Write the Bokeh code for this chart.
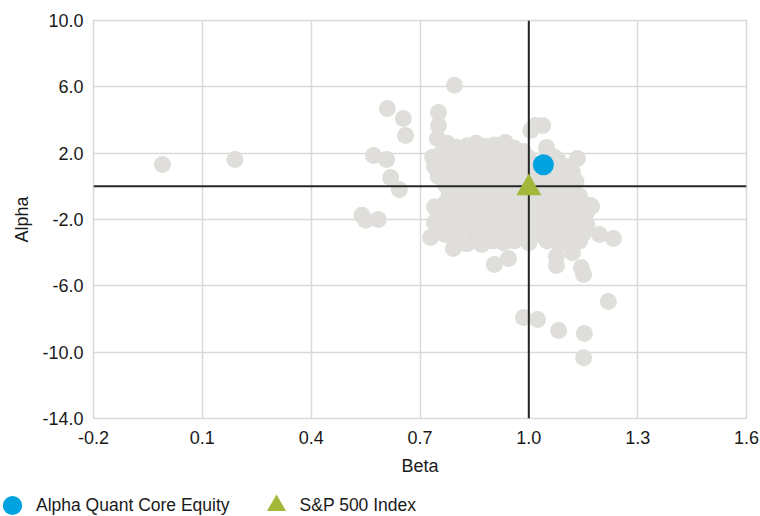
from bokeh.plotting import figure
from bokeh.models import Range1d, FixedTicker, Span, Legend, LegendItem
from bokeh.embed import file_html
from bokeh.resources import INLINE

# ---------------- data ----------------
peer_beta = [
    -0.01, 0.19, 0.54, 0.55, 0.585, 0.572, 0.608, 0.619, 0.643, 0.61, 0.654, 0.66,
    0.795, 0.751, 0.751, 0.748, 1.005, 1.018, 1.038, 1.049, 1.134, 1.115, 1.17,
    0.729, 0.792, 0.831, 0.905, 0.944, 1.076, 1.076, 1.151, 1.145, 1.195, 1.233,
    1.219, 0.985, 1.024, 1.082, 1.153, 1.151, 1.173,
    # dense cloud
    0.775, 0.80, 0.83, 0.855, 0.88, 0.905, 0.935, 0.96, 0.985,
    0.735, 0.76, 0.79, 0.82, 0.85, 0.88, 0.91, 0.94, 0.97, 1.0, 1.05, 1.08, 1.07,
    0.74, 0.77, 0.80, 0.83, 0.86, 0.89, 0.92, 0.95, 0.98, 1.01, 1.07, 1.10, 1.12,
    0.75, 0.78, 0.81, 0.84, 0.87, 0.90, 0.93, 0.96, 0.99, 1.02, 1.05, 1.08, 1.12,
    0.77, 0.80, 0.83, 0.86, 0.89, 0.92, 0.95, 0.98, 1.02, 1.05, 1.08, 1.11, 1.13,
    0.78, 0.81, 0.84, 0.87, 0.90, 0.93, 0.96, 0.99, 1.02, 1.05, 1.08, 1.11, 1.14,
    0.74, 0.77, 0.80, 0.83, 0.86, 0.89, 0.92, 0.95, 0.98, 1.01, 1.04, 1.07, 1.10, 1.13,
    0.75, 0.78, 0.81, 0.84, 0.87, 0.90, 0.93, 0.96, 0.99, 1.02, 1.05, 1.08, 1.11, 1.14, 1.16,
    0.74, 0.765, 0.80, 0.83, 0.86, 0.89, 0.92, 0.95, 0.98, 1.01, 1.04, 1.07, 1.10, 1.13, 1.16,
    0.77, 0.80, 0.85, 0.88, 0.91, 0.94, 0.97, 1.00, 1.03, 1.06, 1.09, 1.12, 1.15,
    0.825, 0.87, 0.90, 0.93, 0.96, 1.00, 1.05, 1.08, 1.11, 1.14, 1.12,
]
peer_alpha = [
    1.31, 1.62, -1.75, -2.05, -2.0, 1.86, 1.62, 0.53, -0.19, 4.69, 4.09, 3.06,
    6.1, 4.45, 3.67, 2.88, 3.37, 3.67, 3.67, 2.34, 1.68, 0.53, -1.16,
    -3.09, -3.75, -3.45, -4.72, -4.35, -4.78, -4.23, -5.32, -4.9, -2.91, -3.15,
    -6.95, -7.91, -8.03, -8.70, -8.88, -10.33, -1.22,
    # dense cloud
    2.6, 2.35, 2.45, 2.6, 2.4, 2.5, 2.65, 2.3, 2.1,
    1.75, 2.0, 1.9, 1.8, 2.0, 1.85, 1.95, 1.8, 1.9, 1.7, 2.2, 1.6, 1.75,
    1.2, 1.35, 1.1, 1.3, 1.2, 1.4, 1.2, 1.35, 1.15, 1.3, 1.1, 1.2, 0.9,
    0.6, 0.8, 0.65, 0.75, 0.6, 0.8, 0.65, 0.7, 0.6, 0.8, 0.7, 0.6, 0.3,
    0.1, 0.0, 0.15, -0.05, 0.1, 0.0, 0.15, -0.05, 0.05, 0.2, 0.0, 0.1, 0.3,
    -0.5, -0.6, -0.4, -0.55, -0.45, -0.6, -0.5, -0.4, -0.6, -0.45, -0.55, -0.5, -0.6,
    -1.25, -1.0, -1.2, -1.05, -1.15, -1.0, -1.2, -1.1, -1.0, -1.2, -1.05, -1.15, -1.0, -1.1,
    -1.7, -1.8, -1.65, -1.75, -1.6, -1.8, -1.7, -1.6, -1.8, -1.65, -1.75, -1.6, -1.8, -1.7, -1.55,
    -2.2, -2.45, -2.3, -2.4, -2.2, -2.35, -2.25, -2.4, -2.3, -2.2, -2.4, -2.3, -2.25, -2.4, -2.3,
    -2.9, -3.0, -2.85, -3.0, -2.9, -3.05, -2.85, -3.0, -2.9, -3.05, -2.9, -3.0, -2.85,
    -3.45, -3.5, -3.3, -3.4, -3.3, -3.4, -3.3, -3.4, -3.5, -3.3, -4.0,
]

fund_beta = [1.04]
fund_alpha = [1.3]
index_beta = [1.0]
index_alpha = [-0.1]

x_ticks = [-0.2, 0.1, 0.4, 0.7, 1.0, 1.3, 1.6]
x_tick_labels = ["-0.2", "0.1", "0.4", "0.7", "1.0", "1.3", "1.6"]
y_ticks = [-14, -10, -6, -2, 2, 6, 10]
y_tick_labels = ["-14.0", "-10.0", "-6.0", "-2.0", "2.0", "6.0", "10.0"]

series_names = ["Alpha Quant Core Equity", "S&P 500 Index"]
beta_ref = 1.0
alpha_ref = 0.0

# ---------------- styles ----------------
FONT = "Liberation Sans"
TXT = "#1a1a1a"
GRAY = "#E0DEDA"
BLUE = "#00A3E0"
GREEN = "#A2B83A"

# ---------------- main figure ----------------
p = figure(width=760, height=482, output_backend="svg", toolbar_location=None,
           x_range=Range1d(-0.2, 1.6), y_range=Range1d(-14, 10),
           min_border_left=93, min_border_right=14, min_border_top=20,
           min_border_bottom=64)
p.outline_line_color = "#D9D9D9"
p.outline_line_width = 1.5
p.background_fill_color = "white"
p.border_fill_color = "white"

for ax in (p.xaxis[0], p.yaxis[0]):
    ax.axis_line_color = None
    ax.major_tick_line_color = None
    ax.minor_tick_line_color = None
    ax.major_tick_out = 0
    ax.major_tick_in = 0
    ax.major_label_text_font = FONT
    ax.major_label_text_font_size = "18px"
    ax.major_label_text_color = TXT
    ax.axis_label_text_font = FONT
    ax.axis_label_text_font_size = "18px"
    ax.axis_label_text_font_style = "normal"
    ax.axis_label_text_color = TXT

p.xaxis.ticker = FixedTicker(ticks=x_ticks)
p.yaxis.ticker = FixedTicker(ticks=y_ticks)
p.xaxis.major_label_overrides = dict(zip(x_ticks, x_tick_labels))
p.yaxis.major_label_overrides = dict(zip(y_ticks, y_tick_labels))
p.xaxis.axis_label = "Beta"
p.yaxis.axis_label = "Alpha"
p.xaxis.major_label_standoff = 12
p.yaxis.major_label_standoff = 10
p.xaxis.axis_label_standoff = 9
p.yaxis.axis_label_standoff = 7

p.xgrid.ticker = FixedTicker(ticks=x_ticks)
p.ygrid.ticker = FixedTicker(ticks=y_ticks)
p.grid.grid_line_color = "#D9D9D9"
p.grid.grid_line_width = 1.5

# peers
p.scatter(peer_beta, peer_alpha, size=17, marker="circle",
          fill_color=GRAY, line_color=None)

# reference lines (above the peer cloud)
p.add_layout(Span(location=beta_ref, dimension="height",
                  line_color="#262626", line_width=2))
p.add_layout(Span(location=alpha_ref, dimension="width",
                  line_color="#262626", line_width=2))

p.scatter(index_beta, index_alpha, size=25, marker="triangle",
          fill_color=GREEN, line_color=None, level="overlay")
p.scatter(fund_beta, fund_alpha, size=21, marker="circle",
          fill_color=BLUE, line_color=None, level="overlay")

# ---------------- legend strip (separate root, no frame alignment) ----------------
lg = figure(width=760, height=34, output_backend="svg", toolbar_location=None,
            x_range=Range1d(2, 3), y_range=Range1d(2, 3),
            x_axis_location=None, y_axis_location=None,
            min_border_left=0, min_border_right=0, min_border_top=0,
            min_border_bottom=0)
lg.outline_line_color = None
lg.grid.visible = False
lg.background_fill_color = "white"
lg.border_fill_color = "white"

# legend proxies: same series, outside the strip's view
l_fund = lg.scatter(fund_beta, fund_alpha, marker="circle",
                    fill_color=BLUE, line_color=None)
l_index = lg.scatter(index_beta, index_alpha, marker="triangle",
                     fill_color=GREEN, line_color=None)

legend = Legend(items=[LegendItem(label=series_names[0], renderers=[l_fund]),
                       LegendItem(label=series_names[1], renderers=[l_index])],
                orientation="horizontal", location=(-12, -13),
                padding=0, margin=0, spacing=22, label_standoff=0,
                glyph_width=48, glyph_height=48,
                label_text_font=FONT, label_text_font_size="17.5px",
                label_text_color=TXT, background_fill_alpha=0,
                border_line_color=None)
lg.add_layout(legend)

open("out.html", "w").write(file_html([p, lg], INLINE))
